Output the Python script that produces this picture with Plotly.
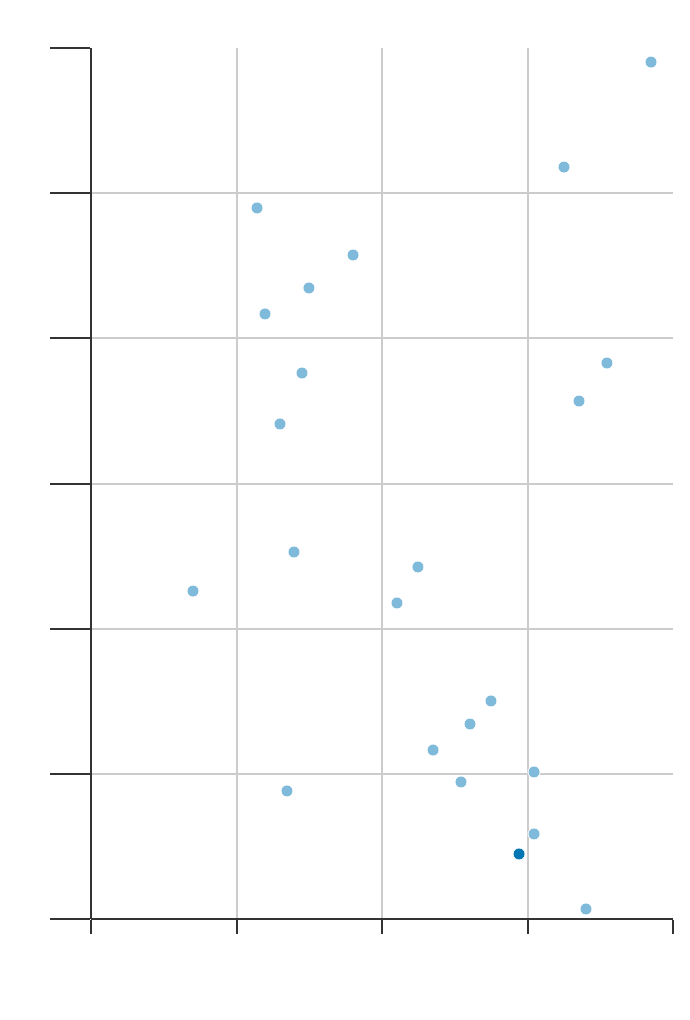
import plotly.graph_objects as go

x_vals = [3.849, 3.251, 1.141, 1.801, 1.498, 1.196, 3.546, 1.450, 3.354, 1.299,
          1.395, 2.247, 0.701, 2.103, 2.749, 2.605, 2.351, 3.045, 2.543, 1.347,
          3.045, 3.402]
y_vals = [5.903, 5.180, 4.898, 4.574, 4.347, 4.168, 3.830, 3.761, 3.568, 3.410,
          2.528, 2.425, 2.259, 2.177, 1.502, 1.343, 1.164, 1.013, 0.944, 0.882,
          0.586, 0.069]
highlight_x = [2.942]
highlight_y = [0.448]

fig = go.Figure()
fig.add_trace(go.Scatter(x=x_vals, y=y_vals, mode="markers",
                         marker=dict(size=12, color="#7fbadb", line=dict(color="white", width=1)),
                         showlegend=False))
fig.add_trace(go.Scatter(x=highlight_x, y=highlight_y, mode="markers",
                         marker=dict(size=12, color="#0077b3", line=dict(color="white", width=1)),
                         showlegend=False))

fig.update_layout(
    width=690, height=1020,
    margin=dict(l=83, r=25, t=40, b=109),
    plot_bgcolor="white", paper_bgcolor="white",
    xaxis=dict(range=[0, 4], dtick=1, tick0=0, showticklabels=False, ticks="outside",
               ticklen=14, tickwidth=2, tickcolor="#333", showline=False,
               showgrid=True, gridcolor="#cccccc", gridwidth=1.5,
               zeroline=True, zerolinecolor="#333", zerolinewidth=2,
               fixedrange=True),
    yaxis=dict(range=[0, 6], dtick=1, tick0=0, showticklabels=False, ticks="outside",
               ticklen=40, tickwidth=2, tickcolor="#333", showline=False,
               showgrid=True, gridcolor="#cccccc", gridwidth=1.5,
               zeroline=True, zerolinecolor="#333", zerolinewidth=2,
               fixedrange=True),
)
fig.write_html("out.html")
